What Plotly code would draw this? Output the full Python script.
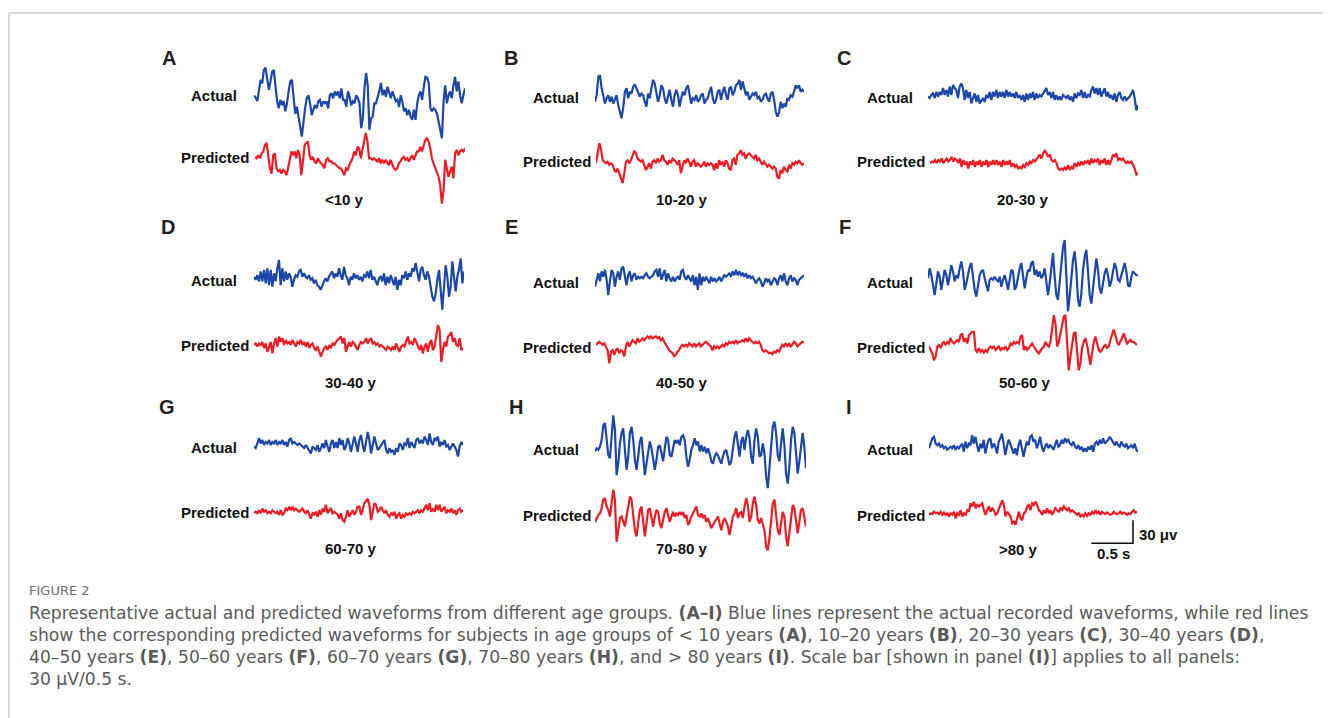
import numpy as np
import plotly.graph_objects as go

# ---------------- data (µV, uniform sampling) ----------------
A_actual = [3.5,1,-3.5,8.7,24,19.6,37,40,26,11,22,35,37,13,-4,-13,-2,-9,-3.5,-17,-6.5,9,22,24,4,-20,-11,-22,-37,-50,-30,-13,0,4,-6.5,-22,-15,-9,-13,-4,-2,-11,-4,-6.5,-4,-13,4,6.5,0,9,4,9,0,13,-2,-2,-11,9,2,-9,-4,-6.5,4,0,-6.5,-39,-26,13,33,17,-41,-26,-24,-6.5,-6.5,0,9,20,4,11,2,15,6.5,0,9,2,-4,-2,-11,4,-4,-17,-13,-22,-15,-24,-28,-15,-28,-6.5,4,9,-2,15,28,27,20,-13,-17,-13,-15,-20,-30,-39,-52,-4,17,-6.5,4,9,0,17,28,9,22,4,-6.5,4,13]
A_predicted = [2,0,4,0,6.5,9,17,20,4,-13,-20,4,6.5,-13,-17,-15,-20,-15,-17,-22,-13,-2,9,4,9,0,11,4,-22,-4,17,20,22,4,-2,2,-4,-6.5,0,-4,-6.5,-9,-13,-2,0,-4,-4,-6.5,-6.5,-9,-11,-13,-13,-17,-22,-13,-15,-9,-4,0,9,4,15,13,0,9,22,33,22,0,0,-2,0,-2,-4,0,-6.5,-2,-6.5,-2,-6.5,-9,-2,-9,-13,-15,-13,-6.5,-4,0,2,-2,0,-4,0,4,-2,4,9,9,15,9,17,24,26,22,13,0,-6.5,-13,-17,-24,-35,-59,-43,-2,-13,-24,-17,-11,-26,6.5,11,4,9,11,9,13]
B_actual = [-6.5,2,26,28,11,2,-9,-2,2,-6.5,0,-9,-4,2,-11,-22,-28,-15,6.5,11,-2,6.5,4,13,16,11,6.5,0,4,2,-6.5,-13,4,-2,11,22,17,2,-6.5,2,15,11,-2,-9,2,9,-4,-13,2,9,2,-13,-2,6.5,2,11,15,2,-9,-2,-4,2,-6.5,-4,2,4,-9,-4,-2,6.5,13,-2,-9,-4,6.5,9,-4,6.5,13,2,-4,11,13,2,6.5,15,17,22,9,20,11,2,6.5,-4,0,4,2,6.5,-2,0,-6.5,-4,2,4,-2,-6.5,4,6.5,-4,-20,-26,-20,-6.5,-15,-9,-13,-2,-4,2,0,6.5,15,11,15,6.5,9,6.5]
B_predicted = [-2,13,24,17,2,0,-2,0,-4,-2,-4,-11,-13,-9,-15,-22,-28,-15,0,2,-2,2,9,14,11,4,2,0,2,-4,-11,-6.5,-2,-9,0,2,-2,4,0,2,9,2,0,-4,2,-2,4,2,0,-4,2,-15,-4,2,-2,4,0,-6.5,0,2,-6.5,-2,-4,-6.5,-4,0,-6.5,-2,-4,-2,-4,-11,-2,-9,2,-4,0,-6.5,2,-2,-9,-11,2,4,-4,9,11,15,9,11,4,9,11,9,6.5,4,9,2,4,0,-4,0,-4,-6.5,-4,-6.5,-9,-6.5,-9,-20,-22,-11,-15,-6.5,-11,-13,-4,-9,-2,-4,0,-2,2,-2,-4,-2]
C_actual = [-2,-4,0,2,-4,4,-2,4,0,9,0,6.5,-2,11,0,13,9,6.5,-4,11,15,9,-6.5,6.5,-4,4,-11,-4,2,-9,0,-11,-6.5,-4,-9,0,-4,4,-6.5,4,-2,6.5,-4,4,-2,4,-4,6.5,-2,4,-2,2,-4,4,-4,0,-6.5,0,-9,2,-6.5,2,-4,4,-6.5,2,-4,0,-2,2,6.5,9,0,4,-4,4,-6.5,0,-6.5,-2,-6.5,0,-2,-4,0,-6.5,-2,-9,2,-4,2,0,6.5,-4,4,-4,0,-2,6.5,11,2,9,0,9,-2,4,9,-2,4,-4,0,-6.5,2,-9,0,4,-4,-6.5,-2,-6.5,-4,-2,2,6.5,-4,-20,-13]
C_predicted = [-1,1,0,3,-1,3,1,5,-1,3,5,1,3,7,1,5,3,-1,5,-6,3,-3.5,1,-8,1,-3.5,3,-6,1,-3.5,3,-6,1,-3.5,3,-6,1,-3.5,3,-3.5,3,-3.5,1,-6,3,-3.5,1,-3.5,3,-6,-1,-6,-3.5,-8,-6,-8,-3.5,-6,-1,-3.5,1,-1,3,1,5,7,10,5,12,15,12,7,10,3,1,3,-1,-8,-10,-8,-10,-6,-10,-3.5,-10,-6,-8,-1,-6,-1,-3.5,1,-3.5,1,-1,3,-3.5,5,-1,3,1,5,-3.5,3,-1,5,-3.5,3,-3.5,5,10,7,12,3,5,3,5,1,-1,1,-1,1,-3.5,-8,-16,-14]
D_actual = [2,-2,4,-4,9,-4,11,-6.5,13,-9,11,-11,6.5,-4,13,24,-9,13,-4,9,-2,6.5,2,-11,-2,4,2,9,11,2,6.5,2,0,4,-2,0,-6.5,-2,-9,-11,-15,-9,-4,0,-4,2,6.5,9,0,6.5,2,13,4,-2,15,4,0,-9,2,-2,6.5,0,4,-2,2,-4,4,2,9,0,11,-2,2,-4,-9,0,2,-4,6.5,-9,2,-6.5,4,-2,-9,2,-15,-2,-9,4,0,9,-2,6.5,2,13,9,20,6.5,-4,11,15,4,-2,9,2,-11,-24,-30,-20,-2,11,-15,-41,-11,17,2,-24,-11,22,2,-17,2,11,26,-6.5,9]
D_predicted = [0,2,-2,2,0,4,-4,2,-9,-2,4,-11,2,9,-2,11,4,9,0,6.5,2,4,0,6.5,2,-2,4,2,6.5,0,4,-2,4,-4,0,2,-4,-6.5,-2,-9,-15,-9,-4,-2,-6.5,0,-4,2,0,4,6.5,9,11,2,9,-9,-2,4,-2,4,2,-2,-6.5,0,4,2,4,9,2,6.5,9,2,4,0,2,-2,0,-2,-4,-6.5,-2,-4,-6.5,-2,-6.5,2,-4,-9,-2,0,-2,4,11,2,4,0,9,4,-2,-6.5,0,-11,-2,2,-9,2,6.5,-6.5,-2,11,26,20,-22,-6.5,4,-2,11,13,17,4,9,0,-2,9,-6.5,-4]
E_actual = [-11,-2,6.5,-4,9,2,11,-2,-22,-4,11,6.5,-11,2,9,-2,13,15,2,-9,4,9,-4,4,6.5,-2,2,0,2,0,4,6.5,2,0,2,4,9,11,2,13,-2,4,11,-4,6.5,0,-4,2,-4,0,2,-2,9,11,2,-2,4,0,-4,4,-9,2,-15,6.5,-9,2,-4,2,-2,-6.5,2,-4,0,-4,-2,2,-4,0,4,2,4,6.5,2,9,4,11,4,9,4,6.5,2,6.5,0,4,0,2,-2,-6.5,-2,0,-4,-11,-6.5,0,-4,-2,-9,-4,0,-2,-9,0,4,-4,6.5,-4,-9,0,4,-4,0,-2,-9,-2,0,2,4]
E_predicted = [-2,0,2,0,-2,0,-4,-9,-26,-11,-9,-15,-9,-6.5,-13,-9,-11,-17,-4,2,-4,0,4,2,0,6.5,2,4,6.5,4,6.5,9,6.5,9,6.5,8,9,6.5,8,4,6.5,2,-2,-4,-9,-11,-13,-17,-15,-11,-9,-4,-2,-4,-2,-4,0,-2,-4,0,-4,-2,0,-4,-2,0,2,0,-2,-4,-9,-4,-6.5,-4,-6.5,-4,-2,-4,0,-2,2,0,2,0,4,0,2,2,4,2,6.5,2,6.5,4,2,0,2,0,2,-2,-9,-11,-9,-11,-13,-12,-14,-11,-12,-9,-11,-6.5,-2,-4,0,-4,0,-4,-2,2,0,-4,-2,0,2,1]
F_actual = [0,13,4,-11,-22,-6.5,9,2,-15,-2,11,4,-9,4,17,9,-4,4,0,13,22,9,-15,-6.5,4,15,20,2,-15,-24,-11,4,9,11,0,-11,-17,-2,0,-2,2,-2,-4,2,-11,-2,4,-4,-15,-2,11,9,-15,-11,4,13,20,2,-13,0,11,9,20,22,4,11,2,9,0,4,13,-4,-22,-6.5,15,33,2,-22,-28,-2,20,41,50,2,-43,-24,2,24,35,11,-28,-37,-20,11,28,37,9,-22,-33,-11,13,26,11,-13,-20,-4,6.5,13,4,-11,-4,9,20,13,-2,-4,4,13,20,9,-9,-11,2,9,6.5,4,4]
F_predicted = [-2,-6.5,-11,-20,-15,-2,0,-4,2,4,0,4,2,9,4,2,4,6.5,4,13,15,4,9,2,13,15,17,17,-6.5,-9,-4,-9,-6.5,-10,-6.5,-9,-4,-2,-4,-2,-6.5,-4,-2,-6.5,-4,-5.5,-2,-6.5,-4,2,0,4,2,4,2,11,13,-6.5,-2,-6.5,-4,-2,2,-2,-6.5,-9,-11,-6.5,-4,-2,4,0,-2,4,24,39,28,-2,4,15,24,37,39,4,-33,-15,2,15,17,-6.5,-33,-24,-4,4,9,0,-15,-26,-11,4,11,2,-6.5,-9,-6.5,-2,0,-4,-2,6.5,15,20,13,4,0,4,9,15,9,2,4,6.5,4,4,2,0]
G_actual = [-2,-4,2,9,2,6.5,0,4,2,6.5,0,4,2,6.5,0,4,2,6.5,0,4,-2,6.5,9,2,4,2,0,2,0,-2,-4,0,-4,-9,-11,-2,-4,-6.5,0,-9,-4,2,-4,6.5,-2,-9,2,6.5,-4,4,-4,9,0,6.5,-6.5,-2,9,2,-9,0,11,2,-9,6.5,13,0,-9,4,17,6.5,-11,0,11,2,-6.5,-4,0,2,6.5,-6.5,-11,-4,-9,-6.5,-13,-4,-9,2,0,-6.5,2,0,9,-4,4,0,-4,6.5,9,2,6.5,2,11,6.5,0,15,4,0,9,6.5,11,-2,4,0,6.5,-2,0,-6.5,-2,2,-2,-6.5,-15,-2,4,0]
G_predicted = [-2,0,-2,2,-2,4,0,2,-2,0,-2,2,0,-2,0,-4,2,-4,-2,4,2,6.5,2,6.5,2,4,2,0,2,4,0,-2,2,-4,-9,-2,-4,0,-6.5,2,-4,4,0,9,-2,2,4,-2,0,-2,-4,-9,-2,-11,-13,-6.5,2,-6.5,-2,2,-4,0,6.5,6.5,-4,2,11,15,17,9,-11,0,11,9,0,2,6.5,2,-2,2,-4,-6.5,-2,-4,0,-9,-4,-2,-9,-4,-6.5,-2,-4,-2,-4,0,-2,0,2,-2,2,0,4,9,2,11,0,4,0,9,2,9,0,4,6.5,-2,2,0,4,-2,2,-4,2,4,0,2]
H_actual = [-4,0,-2,2,11,30,33,15,-9,-13,11,43,24,-35,-20,6.5,20,26,-2,-28,-11,20,28,11,-15,-28,-11,9,15,-11,-35,-20,-2,9,0,-15,-28,-15,2,4,-9,-17,0,15,11,-9,-11,2,11,6.5,11,4,15,17,11,-11,-24,-15,-2,4,13,4,9,-4,4,-4,2,-6.5,0,-6.5,-17,-20,-11,-6.5,-9,-15,-20,-11,-4,-2,-11,-22,-17,2,15,22,6.5,-11,9,15,-2,15,24,13,-11,-20,11,26,15,-11,-9,6.5,-6.5,-37,-52,-28,2,28,35,20,-9,-17,6.5,26,4,-33,-46,-24,11,28,20,-6.5,-33,-17,6.5,20,2,-26]
H_predicted = [-9,-4,0,2,9,20,22,11,6.5,-2,13,33,20,-35,-20,-4,-2,-9,-15,-2,13,24,20,-2,-20,-28,-11,6.5,11,-9,-28,-11,6.5,9,-4,-15,-2,6.5,4,-11,-17,-4,4,9,0,-9,-2,4,-2,2,0,4,0,4,-4,0,-13,-9,-2,2,6.5,11,0,-2,2,-4,0,-9,-4,-11,-17,-13,-9,-4,-2,-11,-20,-9,-4,-9,-15,-26,-11,-2,2,9,-4,2,4,-4,11,22,13,-9,-2,15,24,13,-6.5,-11,-4,-11,-20,-41,-46,-30,-6.5,15,20,2,-20,-26,-11,4,-2,-28,-41,-24,-2,13,9,-11,-24,-9,6.5,9,-2,-15]
I_actual = [-2,4,11,13,4,2,4,0,2,-2,0,-4,-2,0,-2,2,-4,0,-2,2,4,-6.5,6.5,-2,4,2,15,4,13,2,-6.5,4,-2,9,-9,2,9,11,-2,4,0,-9,6.5,11,17,4,-11,0,9,4,-2,-9,-2,-11,2,9,-2,-13,-2,6.5,2,13,15,6.5,9,-2,4,13,0,-6.5,0,4,-2,2,0,-4,2,9,0,2,9,4,11,6.5,9,4,2,6.5,0,-2,2,-4,0,-6.5,-2,-6.5,0,-4,2,-6.5,4,6.5,2,9,4,11,4,6.5,9,13,9,4,2,6.5,2,0,6.5,2,0,4,-2,0,2,-2,4,-4,-6.5]
I_predicted = [-2,0,-1,2,0,1,-1,2,-2,1,-2,0,-4,0,-2,2,-6.5,0,-2,4,-4,0,-2,4,2,13,9,15,6.5,11,9,11,13,4,-2,4,9,2,6.5,4,-2,0,6.5,13,17,11,-4,2,-2,-4,-13,-11,-15,-4,2,-6.5,-9,0,2,9,11,4,13,11,15,11,4,2,-2,4,0,6.5,0,4,-2,2,6.5,4,2,6.5,4,9,6.5,4,6.5,2,4,2,0,-2,0,-4,-2,-4,0,-3.5,0,-2,2,-1,4,0,2,-2,2,0,-1,1,0,-2,-1,2,0,-1,0,2,-1,1,0,-2,0,-1,2,4,1,2]

PANEL_KEYS = ["A", "B", "C", "D", "E", "F", "G", "H", "I"]
AGE_LABELS = ["<10 y", "10-20 y", "20-30 y", "30-40 y", "40-50 y", "50-60 y", "60-70 y", "70-80 y", ">80 y"]
ACTUAL = [A_actual, B_actual, C_actual, D_actual, E_actual, F_actual, G_actual, H_actual, I_actual]
PREDICTED = [A_predicted, B_predicted, C_predicted, D_predicted, E_predicted, F_predicted, G_predicted, H_predicted, I_predicted]
SCALE_UV = 30      # scale bar height (µV)
SCALE_S = 0.5      # scale bar length (s)

# ---------------- layout geometry (pixels of the 1331x718 page) ----------------
PAGE_W, PAGE_H = 1331, 718
BODY_MARGIN = 8                      # default page margin around the plot div
W, H = PAGE_W - BODY_MARGIN, PAGE_H - BODY_MARGIN
PX_PER_UV = 23.0 / SCALE_UV
PX_PER_S = 41.7 / SCALE_S
HALF = 70  # half height of each trace strip in px

# per panel: (actual x0, x1, baseline), (pred x0, x1, baseline)  -- page pixels
GEOM = {
    "A": ((254, 465, 98.3), (255, 465, 158.3)),
    "B": ((595, 804, 96.7), (596, 804, 161.7)),
    "C": ((928, 1138, 95.0), (930, 1138, 162.3)),
    "D": ((254, 464, 278.3), (254, 463, 345.0)),
    "E": ((595, 804, 278.3), (596, 804, 343.3)),
    "F": ((928, 1138, 278.3), (929, 1137, 345.0)),
    "G": ((254, 463, 445.0), (254, 463, 511.7)),
    "H": ((595, 806, 448.3), (595, 806, 515.0)),
    "I": ((929, 1138, 446.7), (929, 1137, 513.3)),
}
LETTER_POS = {"A": (169, 58), "B": (511, 58), "C": (844, 58),
              "D": (168, 227), "E": (511, 227), "F": (845, 227),
              "G": (167, 407), "H": (516, 407), "I": (849, 407)}
ACT_LABEL = {"A": (239, 95), "B": (581, 97), "C": (915, 97),
             "D": (239, 281), "E": (581, 283), "F": (915, 283),
             "G": (239, 448), "H": (581, 450), "I": (915, 450)}
PRED_LABEL = {"A": (251, 158), "B": (593, 162), "C": (927, 162),
              "D": (251, 345), "E": (593, 347), "F": (927, 347),
              "G": (251, 512), "H": (593, 515), "I": (927, 515)}
AGE_POS = {"A": (344, 200), "B": (682, 200), "C": (1023, 200),
           "D": (351, 382), "E": (682, 382), "F": (1025, 382),
           "G": (351, 548), "H": (682, 548), "I": (1018, 549)}

BLUE = "#1c47a8"
RED = "#ed1c24"
TXT = "#111111"
FONT = "Liberation Sans, Arial, sans-serif"


def px(x):
    return (x - BODY_MARGIN) / W


def py(y):
    return 1 - (y - BODY_MARGIN) / H


fig = go.Figure()
layout = {}
k = 0
scale_axis = None
for key, act, pred in zip(PANEL_KEYS, ACTUAL, PREDICTED):
    for (x0, x1, base), vals, color in zip(GEOM[key], (act, pred), (BLUE, RED)):
        k += 1
        T = (x1 - x0) / PX_PER_S
        t = np.linspace(0, T, len(vals))
        xa = "x" if k == 1 else f"x{k}"
        ya = "y" if k == 1 else f"y{k}"
        fig.add_trace(go.Scatter(x=t, y=vals, mode="lines", xaxis=xa, yaxis=ya,
                                 line=dict(color=color, width=2.2),
                                 hoverinfo="skip", showlegend=False))
        sfx = "" if k == 1 else str(k)
        layout[f"xaxis{sfx}"] = dict(domain=[px(x0), px(x1)], range=[0, T], visible=False,
                                     anchor=ya, fixedrange=True)
        layout[f"yaxis{sfx}"] = dict(domain=[py(base + HALF), py(base - HALF)],
                                     range=[-HALF / PX_PER_UV, HALF / PX_PER_UV],
                                     visible=False, anchor=xa, fixedrange=True)
        if key == "I" and color == RED:
            scale_axis = (xa, ya, T)

# scale bar drawn in the data units of panel I (predicted trace axes)
xa, ya, T = scale_axis
t_end = T - 0.048
y_bot = -39
fig.add_trace(go.Scatter(x=[t_end - SCALE_S, t_end, t_end], y=[y_bot, y_bot, y_bot + SCALE_UV],
                         mode="lines", xaxis=xa, yaxis=ya, line=dict(color="#111", width=1.6),
                         hoverinfo="skip", showlegend=False))


def note(x, y, text, size, color=TXT, family=FONT, xanchor="center", height=None):
    d = dict(x=px(x), y=py(y), xref="paper", yref="paper", text=text, showarrow=False,
             xanchor=xanchor, yanchor="middle", font=dict(size=size, color=color, family=family))
    if height is not None:
        d["height"] = height
        d["valign"] = "middle"
    return d


ann = []
for key, age in zip(PANEL_KEYS, AGE_LABELS):
    lx, ly = LETTER_POS[key]
    ann.append(note(lx, ly, f"<b>{key}</b>", 20, color="#231f20"))
    ax_, ay_ = ACT_LABEL[key]
    ann.append(note(ax_, ay_, "<b>Actual</b>", 15, xanchor="right"))
    bx, by = PRED_LABEL[key]
    ann.append(note(bx, by, "<b>Predicted</b>", 15, xanchor="right"))
    gx, gy = AGE_POS[key]
    ann.append(note(gx, gy, "<b>" + age.replace("<", "&lt;").replace(">", "&gt;") + "</b>", 15))

ann.append(note(1137, 534, "<b>30 μv</b>", 15, xanchor="left"))
ann.append(note(1113, 553, "<b>0.5 s</b>", 15))

# caption
CAP_FONT = "DejaVu Sans, sans-serif"
CAP_COLOR = "#5a5a5a"
ann.append(note(27, 590, "FIGURE 2", 13, color="#707070", family=CAP_FONT, xanchor="left", height=18))
caption_lines = [
    "Representative actual and predicted waveforms from different age groups. <b>(A–I)</b> Blue lines represent the actual recorded waveforms, while red lines",
    "show the corresponding predicted waveforms for subjects in age groups of &lt; 10 years <b>(A)</b>, 10–20 years <b>(B)</b>, 20–30 years <b>(C)</b>, 30–40 years <b>(D)</b>,",
    "40–50 years <b>(E)</b>, 50–60 years <b>(F)</b>, 60–70 years <b>(G)</b>, 70–80 years <b>(H)</b>, and &gt; 80 years <b>(I)</b>. Scale bar [shown in panel <b>(I)</b>] applies to all panels:",
    "30 μV/0.5 s.",
]
for i, line in enumerate(caption_lines):
    ann.append(note(27, 612 + 22 * i, line, 17.2, color=CAP_COLOR, family=CAP_FONT,
                    xanchor="left", height=21))

shapes = [
    dict(type="line", xref="paper", yref="paper", x0=px(9), x1=1, y0=py(13), y1=py(13),
         line=dict(color="#cccccc", width=1.5)),
    dict(type="line", xref="paper", yref="paper", x0=px(9), x1=px(9), y0=py(13), y1=0,
         line=dict(color="#cccccc", width=1.5)),
]

fig.update_layout(width=W, height=H, margin=dict(l=0, r=0, t=0, b=0),
                  paper_bgcolor="white", plot_bgcolor="rgba(0,0,0,0)",
                  annotations=ann, shapes=shapes, showlegend=False, **layout)
fig.write_html("out.html", config={"displayModeBar": False})
